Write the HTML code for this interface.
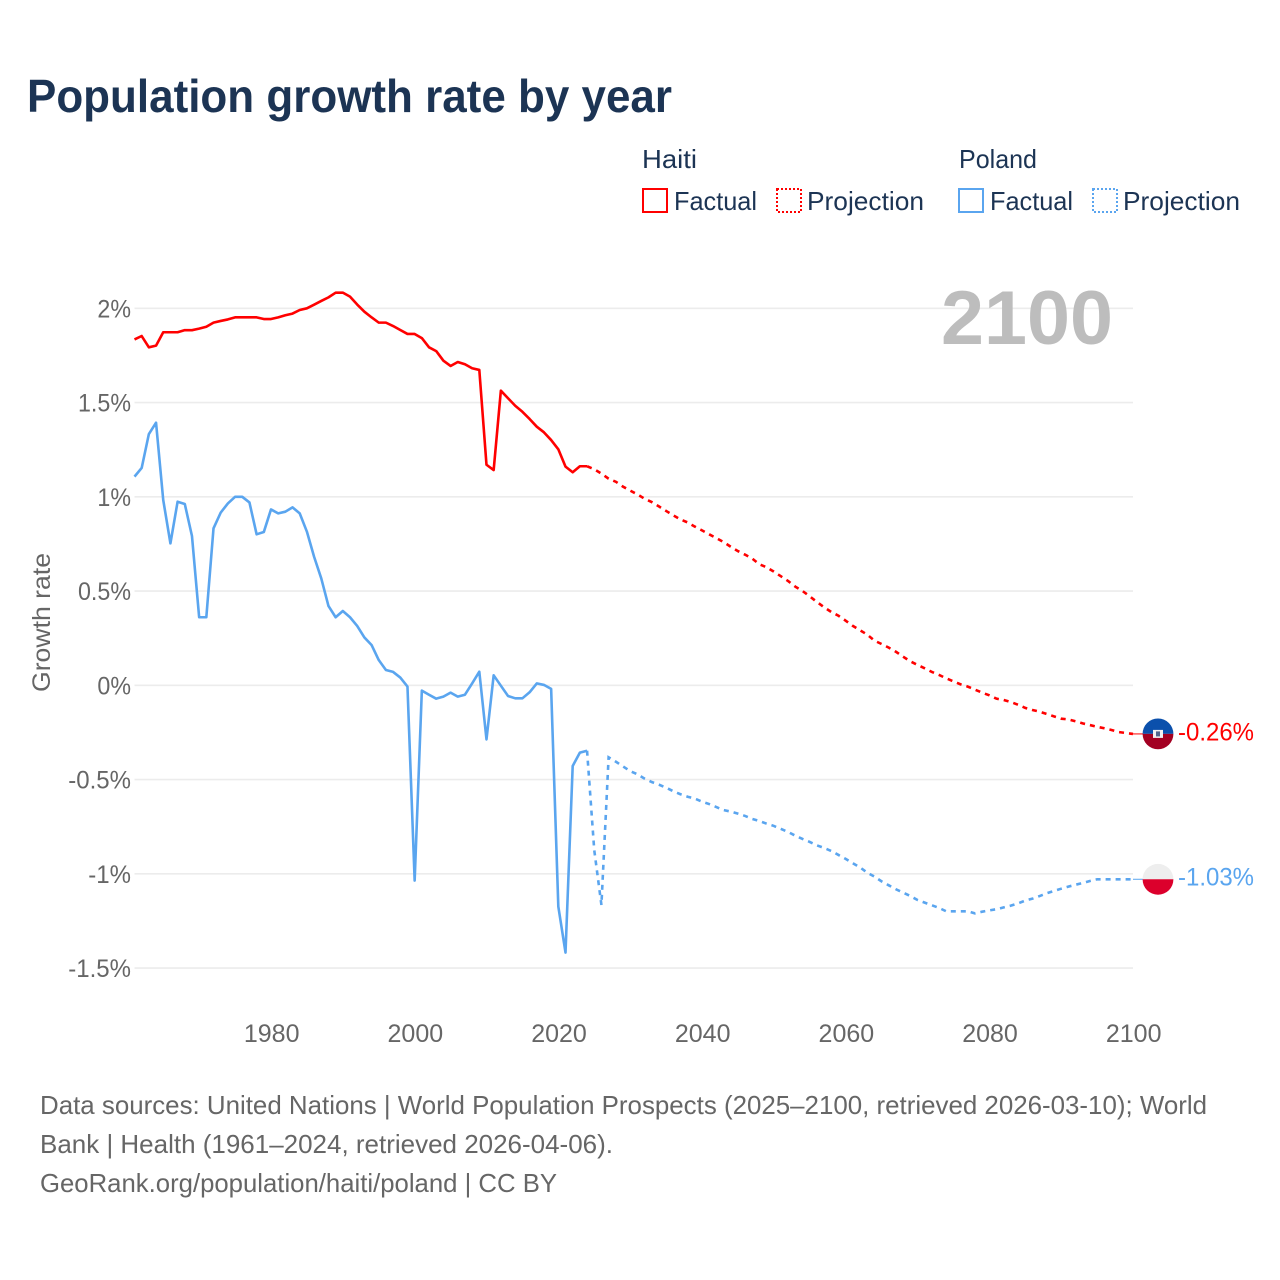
<!DOCTYPE html>
<html lang="en">
<head>
<meta charset="utf-8">
<title>Population growth rate by year</title>
<style>
html,body{margin:0;padding:0;background:#fff;}
svg{display:block;font-family:"Liberation Sans",Arial,sans-serif;}
.muted{fill:#666;}
.navy{fill:#1c3454;}
</style>
</head>
<body>
<svg id="chart" width="1280" height="1280" viewBox="0 0 1280 1280" xmlns="http://www.w3.org/2000/svg">
  <rect width="1280" height="1280" fill="#fff"/>
  <text class="navy" x="27" y="112" font-size="46" font-weight="700" textLength="645" lengthAdjust="spacingAndGlyphs">Population growth rate by year</text>

  <g>
    <text class="navy" x="642" y="168" font-size="26" textLength="55" lengthAdjust="spacingAndGlyphs">Haiti</text>
    <text class="navy" x="959" y="168" font-size="26" textLength="78" lengthAdjust="spacingAndGlyphs">Poland</text>
    <g>
      <rect x="643" y="189" width="24" height="23" fill="none" stroke="#ff0000" stroke-width="2"/>
      <text class="navy" x="674" y="210" font-size="26" textLength="83" lengthAdjust="spacingAndGlyphs">Factual</text>
    </g>
    <g>
      <rect x="777" y="189" width="24" height="23" fill="none" stroke="#ff0000" stroke-width="2" stroke-dasharray="2 2"/>
      <text class="navy" x="807" y="210" font-size="26" textLength="117" lengthAdjust="spacingAndGlyphs">Projection</text>
    </g>
    <g>
      <rect x="959" y="189" width="24" height="23" fill="none" stroke="#5aa5ef" stroke-width="2"/>
      <text class="navy" x="990" y="210" font-size="26" textLength="83" lengthAdjust="spacingAndGlyphs">Factual</text>
    </g>
    <g>
      <rect x="1093" y="189" width="24" height="23" fill="none" stroke="#5aa5ef" stroke-width="2" stroke-dasharray="2 2"/>
      <text class="navy" x="1123" y="210" font-size="26" textLength="117" lengthAdjust="spacingAndGlyphs">Projection</text>
    </g>
  </g>

  <g id="grid"></g>
  <g id="yticks"></g>
  <g id="xticks"></g>
  <text class="muted" transform="translate(50 622.5) rotate(-90)" text-anchor="middle" font-size="25" textLength="139" lengthAdjust="spacingAndGlyphs">Growth rate</text>
  <text x="1113" y="344" text-anchor="end" font-size="76" font-weight="700" fill="#bdbdbd" textLength="172" lengthAdjust="spacingAndGlyphs">2100</text>

  <g id="series"></g>

  <g id="flag-haiti">
    <path d="M-15.4,0A15.4,15.4 0 0 1 15.4,0Z" fill="#0b50ac"/>
    <path d="M-15.4,0A15.4,15.4 0 0 0 15.4,0Z" fill="#a30022"/>
    <rect x="-5" y="-4" width="10" height="8" fill="#f2f2f2"/>
    <rect x="-2" y="-2.5" width="4" height="5" fill="#51668c"/>
  </g>
  <g id="flag-poland">
    <path d="M-15.4,0A15.4,15.4 0 0 1 15.4,0Z" fill="#eeeeee"/>
    <path d="M-15.4,0A15.4,15.4 0 0 0 15.4,0Z" fill="#dc002c"/>
  </g>
  <text id="label-haiti" x="1178" font-size="25" fill="#ff0000" textLength="76" lengthAdjust="spacingAndGlyphs"></text>
  <text id="label-poland" x="1178" font-size="25" fill="#5aa5ef" textLength="76" lengthAdjust="spacingAndGlyphs"></text>

  <g>
    <text class="muted" x="40" y="1114" font-size="26" textLength="1167" lengthAdjust="spacingAndGlyphs">Data sources: United Nations | World Population Prospects (2025–2100, retrieved 2026-03-10); World</text>
    <text class="muted" x="40" y="1153" font-size="26" textLength="573" lengthAdjust="spacingAndGlyphs">Bank | Health (1961–2024, retrieved 2026-04-06).</text>
    <text class="muted" x="40" y="1192" font-size="26" textLength="517" lengthAdjust="spacingAndGlyphs">GeoRank.org/population/haiti/poland | CC BY</text>
  </g>
</svg>
<script>
const firstFactualYear = 1961;
const firstProjectionYear = 2025;
const yTickValues = [2, 1.5, 1, 0.5, 0, -0.5, -1, -1.5];
const xTickYears = [1980, 2000, 2020, 2040, 2060, 2080, 2100];
const haitiFactual = [
  1.835,1.853,1.793,1.802,1.873,1.873,1.873,1.884,1.884,1.892,
  1.902,1.924,1.933,1.941,1.952,1.952,1.952,1.952,1.943,1.943,
  1.952,1.963,1.972,1.991,2.0,2.019,2.039,2.058,2.083,2.083,
  2.062,2.02,1.982,1.952,1.924,1.924,1.906,1.885,1.864,1.864,
  1.842,1.793,1.773,1.722,1.694,1.715,1.703,1.682,1.673,1.17,
  1.142,1.563,1.523,1.483,1.451,1.413,1.372,1.342,1.301,1.252,
  1.16,1.13,1.162,1.162
];
const haitiProjection = [
  1.146,1.123,1.096,1.08,1.054,1.033,1.013,0.99,0.972,0.949,
  0.925,0.902,0.88,0.864,0.842,0.822,0.801,0.781,0.76,0.735,
  0.712,0.693,0.672,0.642,0.626,0.603,0.578,0.553,0.523,0.5,
  0.472,0.442,0.414,0.389,0.369,0.343,0.315,0.292,0.269,0.237,
  0.219,0.2,0.178,0.152,0.127,0.108,0.09,0.071,0.055,0.037,
  0.021,0.005,-0.007,-0.023,-0.039,-0.053,-0.071,-0.078,-0.089,-0.103,
  -0.12,-0.131,-0.14,-0.152,-0.165,-0.177,-0.181,-0.191,-0.202,-0.211,
  -0.22,-0.228,-0.237,-0.248,-0.253,-0.258
];
const polandFactual = [
  1.107,1.153,1.333,1.393,0.983,0.753,0.974,0.962,0.792,0.361,
  0.361,0.833,0.916,0.965,1.0,1.0,0.97,0.801,0.813,0.933,
  0.912,0.921,0.944,0.912,0.815,0.682,0.567,0.421,0.361,0.394,
  0.361,0.315,0.254,0.214,0.134,0.081,0.071,0.041,-0.007,-1.036,
  -0.028,-0.05,-0.071,-0.06,-0.039,-0.06,-0.05,0.01,0.072,-0.287,
  0.053,-0.002,-0.057,-0.069,-0.069,-0.037,0.01,0.002,-0.019,-1.174,
  -1.418,-0.428,-0.357,-0.347
];
const polandProjection = [
  -0.874,-1.165,-0.382,-0.405,-0.43,-0.455,-0.472,-0.495,-0.513,-0.527,
  -0.543,-0.562,-0.578,-0.591,-0.601,-0.617,-0.63,-0.646,-0.662,-0.67,
  -0.681,-0.693,-0.709,-0.72,-0.734,-0.746,-0.762,-0.778,-0.798,-0.815,
  -0.831,-0.849,-0.863,-0.879,-0.9,-0.921,-0.944,-0.966,-0.994,-1.015,
  -1.04,-1.061,-1.082,-1.1,-1.118,-1.139,-1.153,-1.167,-1.181,-1.199,
  -1.199,-1.199,-1.199,-1.21,-1.201,-1.194,-1.188,-1.178,-1.169,-1.157,
  -1.142,-1.132,-1.118,-1.103,-1.091,-1.079,-1.068,-1.058,-1.049,-1.038,
  -1.029,-1.029,-1.029,-1.029,-1.029,-1.029
];

const NS = 'http://www.w3.org/2000/svg';
const plotLeft = 134.5, plotRight = 1133, zeroY = 685.3, pxPerPercent = 188.5;
const xScale = function (year) { return plotLeft + (year - 1961) * (plotRight - plotLeft) / (2100 - 1961); };
const yScale = function (value) { return zeroY - value * pxPerPercent; };

function make(tag, parent, attrs) {
  const el = document.createElementNS(NS, tag);
  for (const k in attrs) el.setAttribute(k, attrs[k]);
  parent.appendChild(el);
  return el;
}
function linePath(values, startYear, prior) {
  const pts = [];
  if (prior) pts.push([xScale(prior.year), yScale(prior.value)]);
  values.forEach(function (v, i) { pts.push([xScale(startYear + i), yScale(v)]); });
  return 'M' + pts.map(function (p) { return p[0].toFixed(2) + ',' + p[1].toFixed(2); }).join('L');
}

const gridGroup = document.getElementById('grid');
const yTickGroup = document.getElementById('yticks');
const xTickGroup = document.getElementById('xticks');
const seriesGroup = document.getElementById('series');

yTickValues.forEach(function (v) {
  const g = make('line', gridGroup, { x1: plotLeft, x2: plotRight, y1: yScale(v), y2: yScale(v), stroke: '#ececec', 'stroke-width': 1.6 });
  
  
  const t = make('text', yTickGroup, { x: 131, y: yScale(v) + 9, 'text-anchor': 'end', 'font-size': 25, class: 'muted' });
  
  
  t.textContent = v + '%';
  t.setAttribute('textLength', (t.getComputedTextLength() * (v < 0 ? 0.96 : 0.93)).toFixed(1));
  t.setAttribute('lengthAdjust', 'spacingAndGlyphs');
});

xTickYears.forEach(function (year) {
  const t = make('text', xTickGroup, { x: xScale(year) + 0.7, y: 1042, 'text-anchor': 'middle', 'font-size': 25, class: 'muted' });
  
  
  t.textContent = year;
});

const haitiFactualLine = make('path', seriesGroup, { d: linePath(haitiFactual, firstFactualYear), fill: 'none', stroke: '#ff0000', 'stroke-width': 2.6, 'stroke-linejoin': 'round' });



const haitiProjectionLine = make('path', seriesGroup, { d: linePath(haitiProjection, firstProjectionYear, { year: firstProjectionYear - 1, value: haitiFactual[haitiFactual.length - 1] }), fill: 'none', stroke: '#ff0000', 'stroke-width': 2.6, 'stroke-dasharray': '5 5' });



const polandFactualLine = make('path', seriesGroup, { d: linePath(polandFactual, firstFactualYear), fill: 'none', stroke: '#5aa5ef', 'stroke-width': 2.6, 'stroke-linejoin': 'round' });



const polandProjectionLine = make('path', seriesGroup, { d: linePath(polandProjection, firstProjectionYear, { year: firstProjectionYear - 1, value: polandFactual[polandFactual.length - 1] }), fill: 'none', stroke: '#5aa5ef', 'stroke-width': 2.6, 'stroke-dasharray': '5 5' });



const haitiEnd = haitiProjection[haitiProjection.length - 1];
const polandEnd = polandProjection[polandProjection.length - 1];

const haitiConnector = make('line', seriesGroup, { x1: plotRight, x2: 1143, y1: yScale(haitiEnd), y2: yScale(haitiEnd), stroke: '#ff0000', 'stroke-width': 1 });



const polandConnector = make('line', seriesGroup, { x1: plotRight, x2: 1143, y1: yScale(polandEnd), y2: yScale(polandEnd), stroke: '#5aa5ef', 'stroke-width': 1 });



document.getElementById('flag-haiti').setAttribute('transform', 'translate(1158 ' + yScale(haitiEnd).toFixed(1) + ')');
document.getElementById('flag-poland').setAttribute('transform', 'translate(1158 ' + yScale(polandEnd).toFixed(1) + ')');

const haitiLabel = document.getElementById('label-haiti');
haitiLabel.setAttribute('y', (yScale(haitiEnd) + 6.5).toFixed(1));
haitiLabel.textContent = haitiEnd.toFixed(2) + '%';

const polandLabel = document.getElementById('label-poland');
polandLabel.setAttribute('y', (yScale(polandEnd) + 6).toFixed(1));
polandLabel.textContent = polandEnd.toFixed(2) + '%';
</script>
</body>
</html>
